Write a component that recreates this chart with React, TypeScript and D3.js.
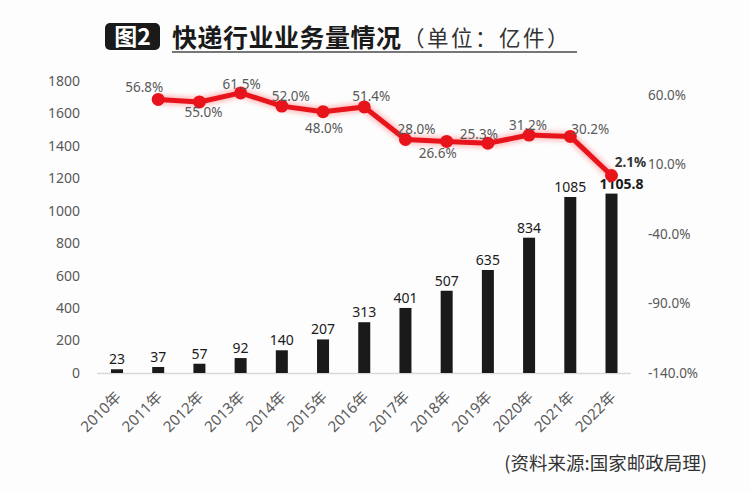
import React from "react";
import * as d3 from "d3";

const years = ["2010年","2011年","2012年","2013年","2014年","2015年","2016年","2017年","2018年","2019年","2020年","2021年","2022年"];
const volumes = [23, 37, 57, 92, 140, 207, 313, 401, 507, 635, 834, 1085, 1105.8];
const volumeLabels = ["23","37","57","92","140","207","313","401","507","635","834","1085","1105.8"];
const growthYears = ["2011年","2012年","2013年","2014年","2015年","2016年","2017年","2018年","2019年","2020年","2021年","2022年"];
const growth = [56.8, 55.0, 61.5, 52.0, 48.0, 51.4, 28.0, 26.6, 25.3, 31.2, 30.2, 2.1];
const leftTicks = [0, 200, 400, 600, 800, 1000, 1200, 1400, 1600, 1800];
const rightTicks = [-140, -90, -40, 10, 60];

// label placement (presentation only)
const growthLabelOffsets: [number, number][] = [
  [-14, -7], [4, 15], [1, -4], [9, -5], [1, 21], [7, -6],
  [11, -5], [-9, 17], [-9, -4], [-1, -5], [20, -2], [19, -8],
];

const FONT = "'Noto Sans', 'Noto Sans CJK SC', sans-serif";
const CJK = "'Noto Sans CJK SC', sans-serif";

export default function App() {
  const W = 750, H = 492;
  const x = d3.scalePoint<string>().domain(years).range([117, 611.5]);
  const yL = d3.scaleLinear().domain([0, 1800]).range([373, 81]);
  const yR = d3.scaleLinear().domain([-140, 60]).range([373, 95]);
  const barW = 12;

  const pts = growth.map((g, i) => [x(growthYears[i])!, yR(g)] as [number, number]);
  const line = d3.line<[number, number]>().x(d => d[0]).y(d => d[1]);
  const pathD = line(pts) || "";

  return (
    <svg width={W} height={H} style={{ position: "absolute", left: 0, top: 0, background: "#fdfdfd" }}>
      <defs>
        <filter id="glow" x="-10%" y="-50%" width="120%" height="200%">
          <feGaussianBlur stdDeviation="2.5" />
        </filter>
      </defs>
      <rect x={0} y={0} width={W} height={H} fill="#fdfdfd" />

      {/* Title */}
      <rect x={105} y={23} width={55} height={27} rx={5} fill="#1a1a1a" />
      <text x={132.5} y={45} textAnchor="middle" fill="#fff" fontSize={23} fontWeight={700} fontFamily={CJK}>图2</text>
      <text x={172} y={47} fill="#1a1a1a" fontSize={25} fontWeight={700} fontFamily={CJK} letterSpacing={0.5}>快递行业业务量情况</text>
      <text x={403} y={46} fill="#333" fontSize={21.5} fontWeight={400} fontFamily={CJK} letterSpacing={2.5}>（单位：亿件）</text>
      <line x1={172} x2={577} y1={52} y2={52} stroke="#777" strokeWidth={2} />

      {/* Left axis ticks */}
      {leftTicks.map(t => (
        <text key={t} x={80} y={yL(t)} dy="0.35em" textAnchor="end" fill="#595959" fontSize={14} fontFamily={FONT}>{t}</text>
      ))}
      {/* Right axis ticks */}
      {rightTicks.map(t => (
        <text key={t} x={648} y={yR(t)} dy="0.35em" textAnchor="start" fill="#595959" fontSize={13.5} fontFamily={FONT}>{t.toFixed(1) + "%"}</text>
      ))}

      {/* Axis line */}
      <line x1={97} x2={631} y1={373.5} y2={373.5} stroke="#d9d9d9" strokeWidth={1.5} />

      {/* Bars */}
      {volumes.map((v, i) => (
        <rect key={i} x={x(years[i])! - barW / 2} y={yL(v)} width={barW} height={yL(0) - yL(v)} fill="#1a1a1a" />
      ))}
      {volumes.map((v, i) => {
        const last = i === volumes.length - 1;
        return (
          <text key={"bl" + i} x={x(years[i])! + (last ? 10 : 0)} y={yL(v) - 5} textAnchor="middle"
            fill="#1a1a1a" fontSize={14} fontWeight={last ? 700 : 400} fontFamily={FONT}>{volumeLabels[i]}</text>
        );
      })}

      {/* Growth line */}
      <path d={pathD} fill="none" stroke="#ff6666" strokeWidth={9} opacity={0.45} filter="url(#glow)" />
      <path d={pathD} fill="none" stroke="#e8141b" strokeWidth={5} strokeLinejoin="round" />
      {pts.map((p, i) => (
        <circle key={i} cx={p[0]} cy={p[1]} r={6.5} fill="#e8141b" />
      ))}
      {growth.map((g, i) => {
        const last = i === growth.length - 1;
        return (
          <text key={"gl" + i} x={pts[i][0] + growthLabelOffsets[i][0]} y={pts[i][1] + growthLabelOffsets[i][1]}
            textAnchor="middle" fill={last ? "#333" : "#595959"} fontSize={13.5} fontWeight={last ? 700 : 400}
            fontFamily={FONT}>{g.toFixed(1) + "%"}</text>
        );
      })}

      {/* X labels */}
      {years.map(yr => (
        <text key={yr} transform={`translate(${x(yr)! + 5},${398}) rotate(-45)`} textAnchor="end"
          fill="#595959" fontSize={15} fontFamily={FONT}>{yr}</text>
      ))}

      {/* Source */}
      <text x={707} y={470} textAnchor="end" fill="#333" fontSize={18.5} fontFamily={CJK}>(资料来源:国家邮政局理)</text>
    </svg>
  );
}
